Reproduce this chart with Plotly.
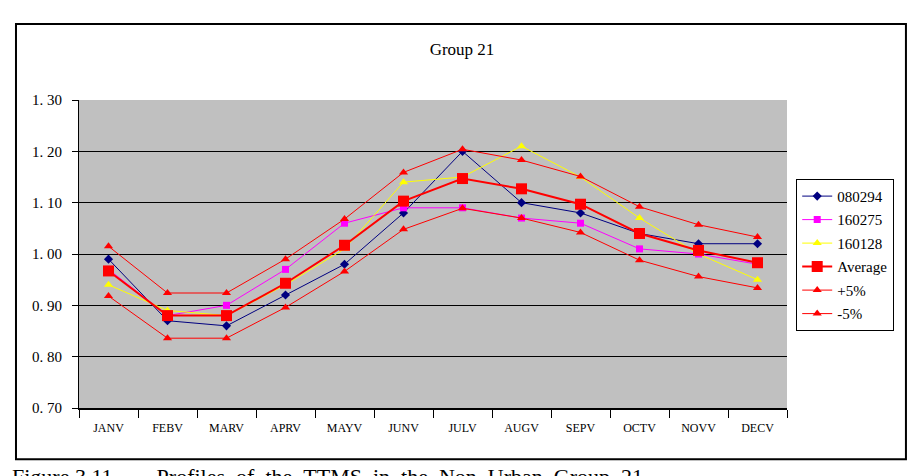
import plotly.graph_objects as go

months = ["JANV", "FEBV", "MARV", "APRV", "MAYV", "JUNV",
          "JULV", "AUGV", "SEPV", "OCTV", "NOVV", "DECV"]

s080294 = [0.99, 0.87, 0.86, 0.92, 0.98, 1.08, 1.20, 1.10, 1.08, 1.04, 1.02, 1.02]
s160275 = [0.97, 0.88, 0.90, 0.97, 1.06, 1.09, 1.09, 1.07, 1.06, 1.01, 1.00, 0.98]
s160128 = [0.94, 0.89, 0.88, 0.94, 1.01, 1.14, 1.15, 1.21, 1.15, 1.07, 1.00, 0.95]
average = [0.967, 0.880, 0.880, 0.943, 1.017, 1.103, 1.147, 1.127, 1.097, 1.040, 1.007, 0.983]
plus5 = [1.015, 0.924, 0.924, 0.990, 1.068, 1.159, 1.204, 1.183, 1.151, 1.092, 1.057, 1.033]
minus5 = [0.918, 0.836, 0.836, 0.896, 0.966, 1.048, 1.089, 1.070, 1.042, 0.988, 0.956, 0.934]

y_ticks = [0.70, 0.80, 0.90, 1.00, 1.10, 1.20, 1.30]
y_labels = ["0.\u00a070", "0.\u00a080", "0.\u00a090", "1.\u00a000",
            "1.\u00a010", "1.\u00a020", "1.\u00a030"]

serif = "Liberation Serif, Times New Roman, serif"
NB = "\u00a0"

fig = go.Figure()

series = [
    ("080294", s080294, "#000080", "diamond", 7, 1),
    ("160275", s160275, "#FF00FF", "square", 7, 1),
    ("160128", s160128, "#FFFF00", "triangle-up", 8, 1),
    ("Average", average, "#FF0000", "square", 11, 2),
    ("+5%", plus5, "#FF0000", "triangle-up", 8, 1),
    ("-5%", minus5, "#FF0000", "triangle-up", 8, 1),
]

for name, vals, col, sym, size, lw in series:
    fig.add_trace(go.Scatter(
        x=months, y=vals, name=name, mode="lines+markers",
        line=dict(color=col, width=lw),
        marker=dict(color=col, symbol=sym, size=size),
        legendgroup=name,
    ))

# outer chart frame
fig.add_shape(type="rect", xref="paper", yref="paper",
              x0=-0.089, x1=1.168, y0=-0.166, y1=1.247,
              line=dict(color="black", width=2), fillcolor="rgba(0,0,0,0)",
              layer="below")

# caption below the frame (partly cut off in the original)
words = ["Profiles", "of", "the", "TTMS", "in", "the", "Non", "Urban", "Group", "21"]
caption = "Figure" + NB + "3.11" + NB * 8 + (NB * 2).join(words)
fig.add_annotation(text=caption,
                   xref="paper", yref="paper", x=-0.098, y=-0.176,
                   xanchor="left", yanchor="top", showarrow=False,
                   font=dict(family=serif, size=22, color="black"))

# the page adds an 8px body margin, so the layout is shifted up/left by 8px
fig.update_layout(
    width=919, height=476,
    margin=dict(l=71, r=140, t=92, b=76, autoexpand=False),
    paper_bgcolor="white",
    plot_bgcolor="#C0C0C0",
    title=dict(text="Group 21", x=(462 - 8) / 919, xref="container",
               xanchor="center", y=1 - 41 / 476, yanchor="middle",
               font=dict(family=serif, size=17, color="black")),
    font=dict(family=serif, size=13, color="black"),
    legend=dict(x=1.013, y=0.744, xanchor="left", yanchor="top",
                bordercolor="black", borderwidth=1, bgcolor="white",
                tracegroupgap=1, font=dict(family=serif, size=15),
                itemwidth=30),
    showlegend=True,
)

fig.update_xaxes(
    type="category", showgrid=False, showline=True, linecolor="black",
    linewidth=2, ticks="outside", tickson="boundaries", ticklen=8,
    tickcolor="black", tickfont=dict(family=serif, size=12),
    range=[-0.5, 11.5], automargin=False, ticklabelstandoff=8,
)
fig.update_yaxes(
    range=[0.70, 1.30], tickvals=y_ticks, ticktext=y_labels,
    showgrid=True, gridcolor="black", gridwidth=1, zeroline=False,
    showline=True, linecolor="black", linewidth=1, ticks="outside",
    ticklen=6, tickcolor="black", tickfont=dict(family=serif, size=15),
    automargin=False, ticklabelstandoff=7,
)

fig.write_html("out.html")
